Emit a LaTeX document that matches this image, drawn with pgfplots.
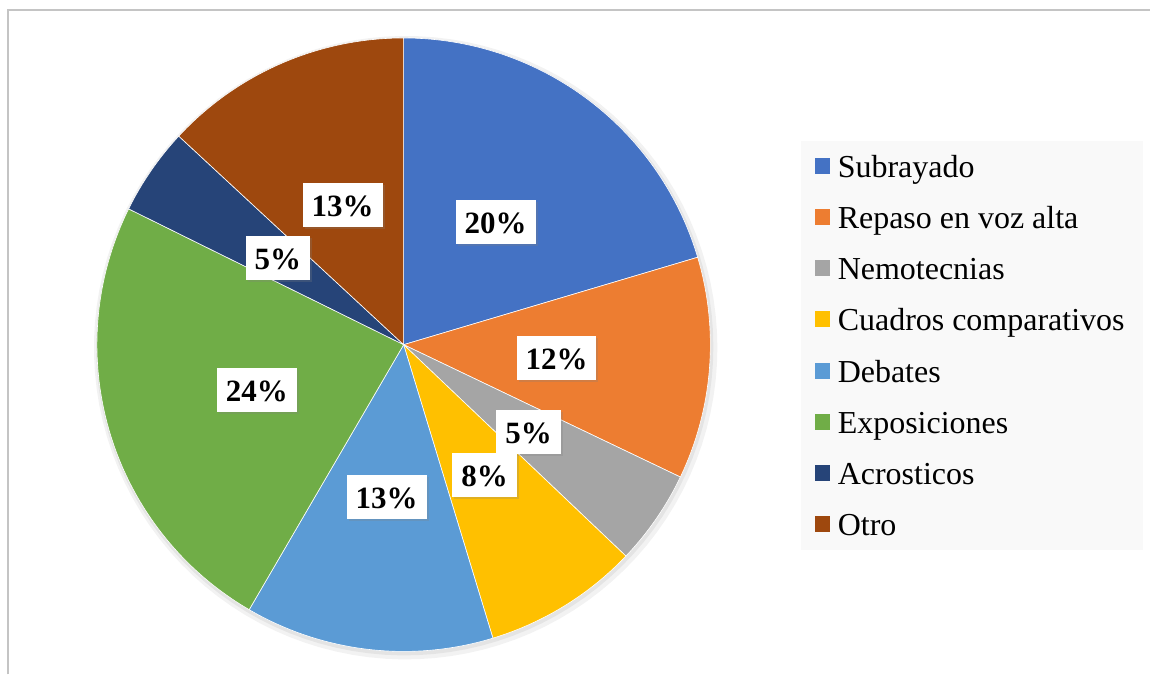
\documentclass[border=0pt]{standalone}
\usepackage{pgfplots}
\pgfplotsset{compat=1.18}
\usepackage{fontspec}
\setmainfont{Liberation Serif}
\usetikzlibrary{shadows}
\definecolor{cA}{HTML}{4472C4}
\definecolor{cB}{HTML}{ED7D31}
\definecolor{cC}{HTML}{A5A5A5}
\definecolor{cD}{HTML}{FFC000}
\definecolor{cE}{HTML}{5B9BD5}
\definecolor{cF}{HTML}{70AD47}
\definecolor{cG}{HTML}{264478}
\definecolor{cH}{HTML}{9E480E}
\definecolor{legbg}{HTML}{F9F9F9}
\definecolor{frame}{HTML}{C4C4C4}
% cumulative shares (percent) of each slice: start end
\newcommand{\slice}[4]{%
  \addplot[fill=#3, draw=white, line width=0.6pt, domain={90-3.6*#2}:{90-3.6*#1}, samples=90]
    ({404+307*cos(x)},{330+307*sin(x)}) -- (axis cs:404,330) -- cycle;
  \addlegendentry{#4}}
\newcommand{\lab}[3]{\node[fill=white, font=\fontsize{31}{37}\selectfont\bfseries, inner xsep=9pt, inner ysep=4pt,
  text height=30pt, text depth=6pt, drop shadow={shadow xshift=2pt, shadow yshift=-2pt, opacity=0.25}]
  at (axis cs:#1,#2) {#3};}
\begin{document}
\begin{tikzpicture}
\begin{axis}[
  width=1151pt, height=675pt, scale only axis,
  xmin=0, xmax=1151, ymin=0, ymax=675,
  axis lines=none, clip=false,
  legend image code/.code={\fill[#1,draw=none] (0pt,-4pt) rectangle (16pt,12pt); \path (23pt,0pt);},
  legend cell align=left,
  legend style={at={(axis cs:815,520)}, anchor=north west, draw=none, fill=none,
    inner sep=0pt, row sep=22.3pt,
    font=\fontsize{32}{38}\selectfont,
    nodes={inner sep=0pt, text height=22pt, text depth=7pt}},
]
% page extent
\path (axis cs:0,0) rectangle (axis cs:1151,675);
% frame
\draw[frame, line width=2pt] (axis cs:8,0) -- (axis cs:8,665) -- (axis cs:1151,665);
% legend background
\fill[legbg] (axis cs:802,534) rectangle (axis cs:1144,125);
% soft shadow of the pie
\addplot[forget plot, draw=none, fill=black, fill opacity=0.05, domain=0:360, samples=120]
  ({406+312*cos(x)},{327+312*sin(x)}) -- cycle;
\addplot[forget plot, draw=none, fill=black, fill opacity=0.06, domain=0:360, samples=120]
  ({405+309*cos(x)},{328+309*sin(x)}) -- cycle;
% slices (shares: 20.4, 11.7, 5.0, 8.2, 13.1, 23.9, 4.6, 13.1)
\slice{0}{20.4}{cA}{Subrayado}
\slice{20.4}{32.1}{cB}{Repaso en voz alta}
\slice{32.1}{37.1}{cC}{Nemotecnias}
\slice{37.1}{45.3}{cD}{Cuadros comparativos}
\slice{45.3}{58.4}{cE}{Debates}
\slice{58.4}{82.3}{cF}{Exposiciones}
\slice{82.3}{86.9}{cG}{Acrosticos}
\slice{86.9}{100}{cH}{Otro}
% data labels
\lab{496}{453}{20\%}
\lab{557}{317}{12\%}
\lab{529}{243}{5\%}
\lab{485}{200}{8\%}
\lab{387}{178}{13\%}
\lab{257}{285}{24\%}
\lab{278}{417}{5\%}
\lab{343}{470}{13\%}
\end{axis}
\end{tikzpicture}
\end{document}
